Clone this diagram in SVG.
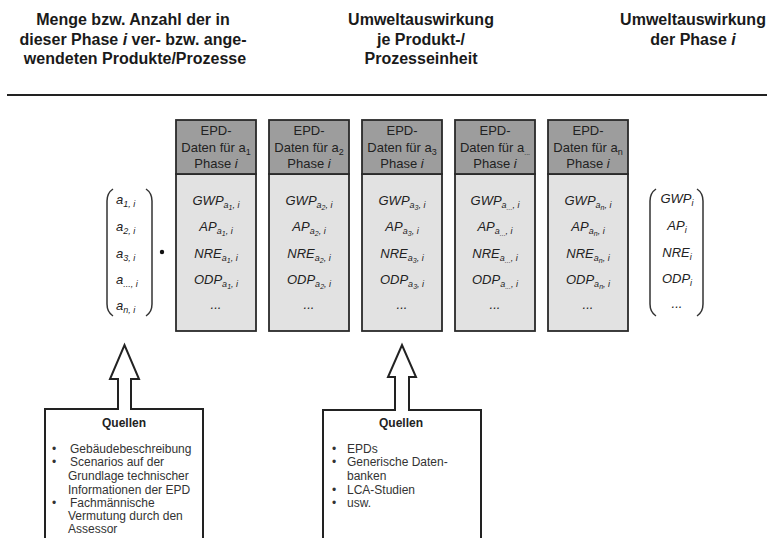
<svg xmlns="http://www.w3.org/2000/svg" width="769" height="538" viewBox="0 0 769 538">
<style>
text{font-family:"Liberation Sans",Arial,sans-serif;}
.h{font-size:16px;font-weight:bold;fill:#1a1a1a;text-anchor:middle;}
.bh{font-size:13px;fill:#222;text-anchor:middle;}
.v{font-size:13px;font-style:italic;fill:#222;text-anchor:middle;}
.vl{font-size:13px;font-style:italic;fill:#222;}
.s1{font-size:9px;}
.s2{font-size:7px;}
.hd{fill:#9d9d9d;stroke:#2a2a2a;stroke-width:1.8;}
.bd{fill:#e2e2e2;stroke:#2a2a2a;stroke-width:1.8;}
.par{fill:none;stroke:#333;stroke-width:1.5;}
.src{fill:#fff;stroke:#222;stroke-width:2;}
.q{font-size:12px;font-weight:bold;fill:#222;text-anchor:middle;}
.t{font-size:12px;fill:#333;}
</style>
<defs>
<g id="body"><rect x="0" y="54" width="80" height="157" class="bd"/><rect x="0" y="0" width="80" height="54" class="hd"/></g>
</defs>

<g id="header">
<text class="h" x="133" y="25">Menge bzw. Anzahl der in</text>
<text class="h" x="133" y="45">dieser Phase <tspan font-style="italic">i</tspan> ver- bzw. ange-</text>
<text class="h" x="135" y="64">wendeten Produkte/Prozesse</text>
<text class="h" x="421" y="25">Umweltauswirkung</text>
<text class="h" x="421" y="45">je Produkt-/</text>
<text class="h" x="421" y="64">Prozesseinheit</text>
<text class="h" x="693" y="25">Umweltauswirkung</text>
<text class="h" x="693" y="45">der Phase <tspan font-style="italic">i</tspan></text>
<line x1="7" y1="95" x2="767" y2="95" stroke="#222" stroke-width="2"/>
</g>

<g id="vector-a">
<path class="par" d="M113,189 Q107,193 107,201 L107,304 Q107,312 113,316"/>
<path class="par" d="M146,189 Q152,193 152,201 L152,304 Q152,312 146,316"/>
<text class="vl" x="116" y="204">a<tspan class="s1" dy="3">1, i</tspan></text>
<text class="vl" x="116" y="231">a<tspan class="s1" dy="3">2, i</tspan></text>
<text class="vl" x="116" y="258">a<tspan class="s1" dy="3">3, i</tspan></text>
<text class="vl" x="116" y="284">a<tspan class="s1" dy="3">..., i</tspan></text>
<text class="vl" x="116" y="310">a<tspan class="s1" dy="3">n, i</tspan></text>
</g>

<g id="dot"><circle cx="162" cy="252" r="2.2" fill="#111"/></g>

<g id="epd-a1">
<use href="#body" x="176" y="120"/>
<text class="bh" x="216" y="135">EPD-</text>
<text class="bh" x="216" y="152">Daten für a<tspan class="s1" dy="3">1</tspan></text>
<text class="bh" x="216" y="168">Phase <tspan font-style="italic">i</tspan></text>
<text class="v" x="216" y="205">GWP<tspan class="s1" dy="3">a</tspan><tspan class="s2" dy="2">1</tspan><tspan class="s1" dy="-2">, i</tspan></text>
<text class="v" x="216" y="231">AP<tspan class="s1" dy="3">a</tspan><tspan class="s2" dy="2">1</tspan><tspan class="s1" dy="-2">, i</tspan></text>
<text class="v" x="216" y="258">NRE<tspan class="s1" dy="3">a</tspan><tspan class="s2" dy="2">1</tspan><tspan class="s1" dy="-2">, i</tspan></text>
<text class="v" x="216" y="284">ODP<tspan class="s1" dy="3">a</tspan><tspan class="s2" dy="2">1</tspan><tspan class="s1" dy="-2">, i</tspan></text>
<text class="v" x="216" y="309" font-style="normal">...</text>
</g>

<g id="epd-a2">
<use href="#body" x="269" y="120"/>
<text class="bh" x="309" y="135">EPD-</text>
<text class="bh" x="309" y="152">Daten für a<tspan class="s1" dy="3">2</tspan></text>
<text class="bh" x="309" y="168">Phase <tspan font-style="italic">i</tspan></text>
<text class="v" x="309" y="205">GWP<tspan class="s1" dy="3">a</tspan><tspan class="s2" dy="2">2</tspan><tspan class="s1" dy="-2">, i</tspan></text>
<text class="v" x="309" y="231">AP<tspan class="s1" dy="3">a</tspan><tspan class="s2" dy="2">2</tspan><tspan class="s1" dy="-2">, i</tspan></text>
<text class="v" x="309" y="258">NRE<tspan class="s1" dy="3">a</tspan><tspan class="s2" dy="2">2</tspan><tspan class="s1" dy="-2">, i</tspan></text>
<text class="v" x="309" y="284">ODP<tspan class="s1" dy="3">a</tspan><tspan class="s2" dy="2">2</tspan><tspan class="s1" dy="-2">, i</tspan></text>
<text class="v" x="309" y="309" font-style="normal">...</text>
</g>

<g id="epd-a3">
<use href="#body" x="362" y="120"/>
<text class="bh" x="402" y="135">EPD-</text>
<text class="bh" x="402" y="152">Daten für a<tspan class="s1" dy="3">3</tspan></text>
<text class="bh" x="402" y="168">Phase <tspan font-style="italic">i</tspan></text>
<text class="v" x="402" y="205">GWP<tspan class="s1" dy="3">a</tspan><tspan class="s2" dy="2">3</tspan><tspan class="s1" dy="-2">, i</tspan></text>
<text class="v" x="402" y="231">AP<tspan class="s1" dy="3">a</tspan><tspan class="s2" dy="2">3</tspan><tspan class="s1" dy="-2">, i</tspan></text>
<text class="v" x="402" y="258">NRE<tspan class="s1" dy="3">a</tspan><tspan class="s2" dy="2">3</tspan><tspan class="s1" dy="-2">, i</tspan></text>
<text class="v" x="402" y="284">ODP<tspan class="s1" dy="3">a</tspan><tspan class="s2" dy="2">3</tspan><tspan class="s1" dy="-2">, i</tspan></text>
<text class="v" x="402" y="309" font-style="normal">...</text>
</g>

<g id="epd-adots">
<use href="#body" x="455" y="120"/>
<text class="bh" x="495" y="135">EPD-</text>
<text class="bh" x="495" y="152">Daten für a<tspan class="s2" dy="3">...</tspan></text>
<text class="bh" x="495" y="168">Phase <tspan font-style="italic">i</tspan></text>
<text class="v" x="495" y="205">GWP<tspan class="s1" dy="3">a</tspan><tspan class="s2" dy="2">...</tspan><tspan class="s1" dy="-2">, i</tspan></text>
<text class="v" x="495" y="231">AP<tspan class="s1" dy="3">a</tspan><tspan class="s2" dy="2">...</tspan><tspan class="s1" dy="-2">, i</tspan></text>
<text class="v" x="495" y="258">NRE<tspan class="s1" dy="3">a</tspan><tspan class="s2" dy="2">...</tspan><tspan class="s1" dy="-2">, i</tspan></text>
<text class="v" x="495" y="284">ODP<tspan class="s1" dy="3">a</tspan><tspan class="s2" dy="2">...</tspan><tspan class="s1" dy="-2">, i</tspan></text>
<text class="v" x="495" y="309" font-style="normal">...</text>
</g>

<g id="epd-an">
<use href="#body" x="548" y="120"/>
<text class="bh" x="588" y="135">EPD-</text>
<text class="bh" x="588" y="152">Daten für a<tspan class="s1" dy="3">n</tspan></text>
<text class="bh" x="588" y="168">Phase <tspan font-style="italic">i</tspan></text>
<text class="v" x="588" y="205">GWP<tspan class="s1" dy="3">a</tspan><tspan class="s2" dy="2">n</tspan><tspan class="s1" dy="-2">, i</tspan></text>
<text class="v" x="588" y="231">AP<tspan class="s1" dy="3">a</tspan><tspan class="s2" dy="2">n</tspan><tspan class="s1" dy="-2">, i</tspan></text>
<text class="v" x="588" y="258">NRE<tspan class="s1" dy="3">a</tspan><tspan class="s2" dy="2">n</tspan><tspan class="s1" dy="-2">, i</tspan></text>
<text class="v" x="588" y="284">ODP<tspan class="s1" dy="3">a</tspan><tspan class="s2" dy="2">n</tspan><tspan class="s1" dy="-2">, i</tspan></text>
<text class="v" x="588" y="309" font-style="normal">...</text>
</g>

<g id="vector-result">
<path class="par" d="M656,189 Q650,193 650,201 L650,304 Q650,312 656,316"/>
<path class="par" d="M697,189 Q703,193 703,201 L703,304 Q703,312 697,316"/>
<text class="v" x="677" y="203">GWP<tspan class="s1" dy="3">i</tspan></text>
<text class="v" x="677" y="230">AP<tspan class="s1" dy="3">i</tspan></text>
<text class="v" x="677" y="257">NRE<tspan class="s1" dy="3">i</tspan></text>
<text class="v" x="677" y="283">ODP<tspan class="s1" dy="3">i</tspan></text>
<text class="v" x="677" y="308" font-style="normal">...</text>
</g>

<g id="quellen-mengen">
<path class="src" d="M45,545 L45,409 L118,409 L118,379 L110,379 L124.5,345 L139,379 L131,379 L131,409 L203,409 L203,545"/>
<text class="q" x="124" y="427">Quellen</text>
<g class="t">
<text x="52" y="453">•</text><text x="70" y="453">Gebäudebeschreibung</text>
<text x="52" y="466">•</text><text x="70" y="466">Scenarios auf der</text>
<text x="68" y="480">Grundlage technischer</text>
<text x="68" y="494">Informationen der EPD</text>
<text x="52" y="507">•</text><text x="70" y="507">Fachmännische</text>
<text x="68" y="520">Vermutung durch den</text>
<text x="68" y="533">Assessor</text>
</g>
</g>

<g id="quellen-daten">
<path class="src" d="M323,545 L323,410 L395,410 L395,377 L388,377 L402,345 L416,377 L409,377 L409,410 L481,410 L481,545"/>
<text class="q" x="401" y="427">Quellen</text>
<g class="t">
<text x="332" y="453">•</text><text x="347" y="453">EPDs</text>
<text x="332" y="466">•</text><text x="347" y="466">Generische Daten-</text>
<text x="347" y="480">banken</text>
<text x="332" y="494">•</text><text x="347" y="494">LCA-Studien</text>
<text x="332" y="507">•</text><text x="347" y="507">usw.</text>
</g>
</g>
</svg>
